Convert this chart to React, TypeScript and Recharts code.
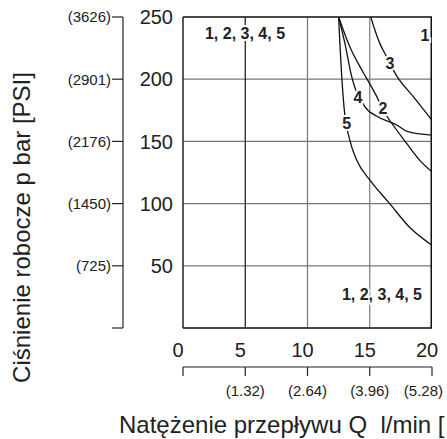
import { CartesianGrid, Label, Line, LineChart, ReferenceDot, ReferenceLine, XAxis, YAxis } from 'recharts';

const flowTicks = [0, 5, 10, 15, 20];
const gpmLabels = ['', '(1.32)', '(2.64)', '(3.96)', '(5.28)'];
const pressureTicks = [0, 50, 100, 150, 200, 250];
const psiLabels = ['', '(725)', '(1450)', '(2176)', '(2901)', '(3626)'];

// valve characteristics, Q [l/min] vs p [bar]
const curve1Q = [20, 20];
const curve1P = [0, 250];
const curve2Q = [12.5, 13.4, 14.5, 15.3, 16.4, 16.6, 18.0, 19.0, 20];
const curve2P = [250, 226, 205, 191, 170, 167, 148, 135, 125.5];
const curve3Q = [15.08, 15.8, 16.2, 17.2, 18.5, 20];
const curve3P = [250, 229, 221, 202, 186, 167];
const curve4Q = [12.5, 13.0, 13.55, 14.6, 15.6, 17.2, 18.0, 20];
const curve4P = [250, 229, 202, 178, 170, 163, 158, 155];
const curve5Q = [12.5, 12.6, 12.75, 12.93, 13.4, 13.95, 15.0, 16.6, 18.2, 20];
const curve5P = [250, 229, 202, 178, 151, 135, 119, 100, 81, 66.5];

const curveLabels = ['1', '2', '3', '4', '5', '1, 2, 3, 4, 5', '1, 2, 3, 4, 5'];
const curveLabelQ = [19.43, 16.06, 16.63, 14.06, 13.15, 4.98, 15.98];
const curveLabelP = [235.5, 176.9, 212.9, 185.6, 164.7, 237.1, 27.1];

const toPoints = (q: number[], p: number[]) => q.map((v, i) => ({ q: v, p: p[i] }));

const curves = [
  { id: 'c1', data: toPoints(curve1Q, curve1P), width: 3, type: 'linear' as const },
  { id: 'c2', data: toPoints(curve2Q, curve2P), width: 1.3, type: 'monotone' as const },
  { id: 'c3', data: toPoints(curve3Q, curve3P), width: 1.3, type: 'monotone' as const },
  { id: 'c4', data: toPoints(curve4Q, curve4P), width: 1.3, type: 'monotone' as const },
  { id: 'c5', data: toPoints(curve5Q, curve5P), width: 1.3, type: 'monotone' as const },
];

const sans = "'Liberation Sans', Arial, Helvetica, sans-serif";

const mainTick = { fontSize: 20, fontFamily: sans, fill: '#222' };
const smallTick = { fontSize: 15, fontFamily: sans, fill: '#222' };

// last GPM label sits flush against the right edge, like in the print
function GpmTick(props: any) {
  const { x, y, payload } = props;
  const i = flowTicks.indexOf(payload.value);
  const last = i === flowTicks.length - 1;
  return (
    <text
      x={last ? x + 11 : x}
      y={y}
      dy="0.71em"
      textAnchor={last ? 'end' : 'middle'}
      fontSize={15}
      fontFamily={sans}
      fill="#222"
    >
      {gpmLabels[i]}
    </text>
  );
}

export default function App() {
  return (
    <div style={{ position: 'absolute', left: 0, top: 0, width: 447, height: 439, overflow: 'hidden', background: '#fff' }}>
      <LineChart width={447} height={439} margin={{ top: 17, right: 15, bottom: 32, left: 63 }}>
        <CartesianGrid xAxisId="flow" yAxisId="p" stroke="#777" strokeWidth={1.2} vertical={false} horizontal />
        <XAxis
          xAxisId="flow"
          dataKey="q"
          type="number"
          domain={[0, 20]}
          ticks={flowTicks}
          allowDataOverflow
          height={39}
          tickSize={0}
          tickMargin={15}
          tick={{ ...mainTick, dx: -5 }}
          axisLine={{ stroke: '#222', strokeWidth: 1.5 }}
        />
        <XAxis
          xAxisId="gpm"
          dataKey="q"
          type="number"
          domain={[0, 20]}
          ticks={flowTicks}
          allowDataOverflow
          height={40}
          tickSize={9}
          tickMargin={9}
          tick={<GpmTick />}
          axisLine={{ stroke: '#222', strokeWidth: 1.2 }}
          tickLine={{ stroke: '#222', strokeWidth: 1.2 }}
        />
        <YAxis
          yAxisId="p"
          type="number"
          domain={[0, 250]}
          ticks={pressureTicks}
          allowDataOverflow
          width={60}
          tickSize={0}
          tickMargin={10}
          tick={mainTick}
          tickFormatter={(v: number) => (v === 0 ? '' : String(v))}
          axisLine={{ stroke: '#222', strokeWidth: 1.5 }}
        />
        <YAxis
          yAxisId="psi"
          type="number"
          domain={[0, 250]}
          ticks={pressureTicks}
          allowDataOverflow
          width={60}
          tickSize={11}
          tickMargin={1}
          tick={smallTick}
          tickFormatter={(v: number) => psiLabels[pressureTicks.indexOf(v)]}
          axisLine={{ stroke: '#222', strokeWidth: 1.2 }}
          tickLine={{ stroke: '#222', strokeWidth: 1.2 }}
        >
          <Label
            content={() => (
              <text
                transform="translate(30, 227.5) rotate(-90)"
                textAnchor="middle"
                fontSize={24}
                fontFamily={sans}
                fill="#222"
              >
                Ciśnienie robocze p bar [PSI]
              </text>
            )}
          />
        </YAxis>
        <ReferenceLine xAxisId="flow" yAxisId="p" x={5} stroke="#111" strokeWidth={1.2} />
        <ReferenceLine xAxisId="flow" yAxisId="p" x={10} stroke="#777" strokeWidth={1.2} />
        <ReferenceLine xAxisId="flow" yAxisId="p" x={15} stroke="#777" strokeWidth={1.2} />
        <ReferenceLine xAxisId="flow" yAxisId="p" y={250} stroke="#222" strokeWidth={1.5} />
        {/* invisible twin of curve 1 so the secondary (GPM / PSI) axes get data */}
        <Line
          xAxisId="gpm"
          yAxisId="psi"
          data={toPoints(curve1Q, curve1P)}
          dataKey="p"
          stroke="none"
          dot={false}
          activeDot={false}
          legendType="none"
          isAnimationActive={false}
        />
        {curves.map((c) => (
          <Line
            key={c.id}
            xAxisId="flow"
            yAxisId="p"
            data={c.data}
            dataKey="p"
            type={c.type}
            stroke="#111"
            strokeWidth={c.width}
            dot={false}
            activeDot={false}
            isAnimationActive={false}
          />
        ))}
        {curveLabels.map((t, i) => (
          <ReferenceDot
            key={i}
            xAxisId="flow"
            yAxisId="p"
            x={curveLabelQ[i]}
            y={curveLabelP[i]}
            r={0}
            stroke="none"
            label={{
              value: t,
              position: 'center',
              fontSize: 16,
              fontWeight: 'bold',
              fontFamily: sans,
              fill: '#222',
              stroke: '#fff',
              strokeWidth: 4,
              paintOrder: 'stroke',
            }}
          />
        ))}
      </LineChart>
      <svg width={447} height={439} style={{ position: 'absolute', left: 0, top: 0, pointerEvents: 'none' }}>
        <text x={119} y={433} fontSize={24} fontFamily={sans} fill="#222" style={{ whiteSpace: 'pre' }}>
          {'Natężenie przepływu Q  l/min ['}
        </text>
      </svg>
    </div>
  );
}
